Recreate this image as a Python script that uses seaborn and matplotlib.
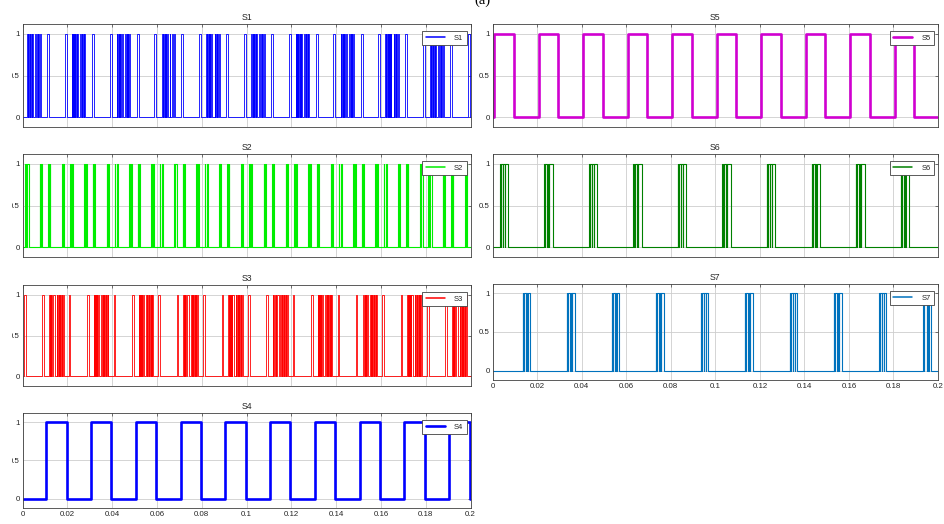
import matplotlib
matplotlib.use("Agg")
import matplotlib.pyplot as plt
import pandas as pd
import seaborn as sns
from matplotlib.lines import Line2D
from matplotlib.patches import Rectangle

# Switching-period start times (s) and the end of the record
period_starts = [0.00, 0.02, 0.04, 0.06, 0.08, 0.10, 0.12, 0.14, 0.16, 0.18]
t_end = 0.2

# On-intervals of each gate signal inside one period, in ms from the period start
s1_pulses = [(2.0, 2.2), (2.4, 2.6), (2.75, 2.9), (3.2, 3.3), (3.6, 3.75), (3.9, 4.1),
             (4.3, 4.7), (5.7, 6.0), (6.5, 6.7), (6.9, 7.2), (7.6, 8.0), (10.9, 11.8),
             (18.8, 19.7)]
s2_pulses = [(1.2, 1.4), (2.1, 2.6), (7.6, 7.9), (8.2, 8.7), (11.4, 11.6), (12.0, 12.3),
             (17.5, 17.8), (18.1, 18.6)]
s3_pulses = [(0.6, 1.3), (8.8, 9.5), (11.8, 12.0), (12.2, 12.5), (12.7, 12.9), (13.2, 13.3),
             (13.6, 14.3), (15.1, 15.4), (15.7, 16.0), (16.2, 16.5), (16.8, 17.1),
             (17.4, 17.6), (17.9, 18.3)]
s4_pulses = [(10.5, 19.6)]
s5_pulses = [(0.6, 9.4)]
s6_pulses = [(3.2, 3.3), (3.45, 3.55), (3.7, 4.6), (4.75, 5.3), (5.45, 7.0)]
s7_pulses = [(13.4, 13.5), (13.65, 13.75), (13.9, 14.85), (15.0, 15.6), (15.75, 16.8)]

signal_names = ["S1", "S2", "S3", "S4", "S5", "S6", "S7"]
signal_pulses = [s1_pulses, s2_pulses, s3_pulses, s4_pulses, s5_pulses, s6_pulses, s7_pulses]
signal_colors = ["#0000ff", "#00ee00", "#ff0000", "#0000ff", "#d000d0", "#008000", "#0072bd"]
signal_widths = [0.6, 0.8, 0.6, 1.9, 1.9, 0.8, 0.8]

x_ticks = [0, 0.02, 0.04, 0.06, 0.08, 0.1, 0.12, 0.14, 0.16, 0.18, 0.2]
x_tick_labels = ["0", "0.02", "0.04", "0.06", "0.08", "0.1", "0.12", "0.14", "0.16", "0.18", "0.2"]
y_ticks = [0, 0.5, 1]
y_tick_labels = ["0", "0.5", "1"]


def edges_frame(pulses):
    t, v = [0.0], [0]
    for p in period_starts:
        for a, b in pulses:
            t_on, t_off = p + a / 1000.0, p + b / 1000.0
            if t_on >= t_end:
                continue
            t.append(t_on)
            v.append(1)
            t.append(min(t_off, t_end))
            v.append(0)
    t.append(t_end)
    v.append(v[-1])
    return pd.DataFrame({"t": t, "v": v})


sns.set_style("white")
plt.rcParams["font.family"] = ["Liberation Sans", "DejaVu Sans"]

W, H = 944, 524
fig = plt.figure(figsize=(W / 100, H / 100), dpi=100)

# axes boxes in pixels: (left, top, right, bottom)
left_col = (22.7, 470.5)
right_col = (492.7, 938.0)
boxes = {
    "S1": (left_col, 24, 127), "S2": (left_col, 154, 257),
    "S3": (left_col, 285, 386), "S4": (left_col, 413, 508),
    "S5": (right_col, 24, 127), "S6": (right_col, 154, 257),
    "S7": (right_col, 284, 380),
}
labelled_x = {"S4", "S7"}

edge_c = "#404040"
text_c = "#262626"

for name, pulses, color, lw in zip(signal_names, signal_pulses, signal_colors, signal_widths):
    (x0, x1), y0, y1 = boxes[name]
    ax = fig.add_axes([x0 / W, 1 - y1 / H, (x1 - x0) / W, (y1 - y0) / H])
    df = edges_frame(pulses)
    sns.lineplot(data=df, x="t", y="v", ax=ax, color=color, linewidth=lw,
                 drawstyle="steps-post", estimator=None, sort=False)
    ax.set_xlim(0, t_end)
    ax.set_ylim(-0.12, 1.12)
    ax.set_xticks(x_ticks)
    ax.set_yticks(y_ticks)
    ax.set_yticklabels(y_tick_labels)
    if name in labelled_x:
        ax.set_xticklabels(x_tick_labels)
    else:
        ax.set_xticklabels([])
    ax.set_xlabel("")
    ax.set_ylabel("")
    ax.set_axisbelow(True)
    ax.grid(True, color="#cdcdcd", linewidth=0.6)
    ax.tick_params(direction="in", length=2.5, width=0.5, top=True, right=True,
                   colors=edge_c, labelcolor=text_c, labelsize=5.7, pad=2)
    for s in ax.spines.values():
        s.set_color(edge_c)
        s.set_linewidth(0.6)
    ax.set_title(name, fontsize=6.3, color=text_c, pad=3)
    wpx, hpx = x1 - x0, y1 - y0
    key = Line2D([], [], color=color, linewidth=max(lw, 1.1))
    leg = ax.legend(handles=[key], labels=[name], loc="upper right",
                    bbox_to_anchor=(1 - 3.8 / wpx, 1 - 7 / hpx),
                    borderaxespad=0, fontsize=5.5, handlelength=2.5, handletextpad=1.2,
                    borderpad=0.45, fancybox=False, framealpha=1, edgecolor=edge_c)
    leg.get_frame().set_linewidth(0.6)
    for txt in leg.get_texts():
        txt.set_color(text_c)

# panel tag above the two columns
fig.text(482 / W, 1 - 4 / H, "(a)", ha="center", va="baseline", fontsize=10.5,
         family="Liberation Serif", color="black")

# white strip along the left margin
fig.patches.append(Rectangle((0, 0), 11.5 / W, 1, transform=fig.transFigure,
                             facecolor="white", edgecolor="none", zorder=10))

fig.savefig("out.png", dpi=100)
